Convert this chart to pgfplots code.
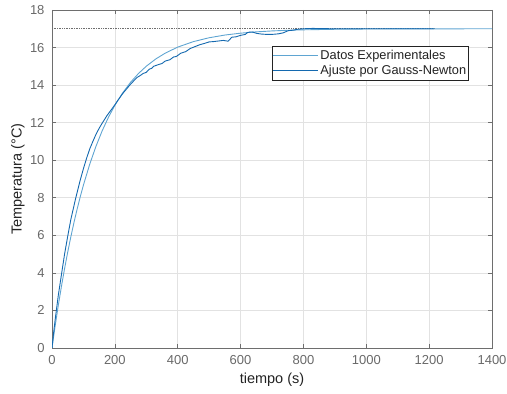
\documentclass[border=0pt]{standalone}
\usepackage{pgfplots}
\pgfplotsset{compat=1.18}
\usepackage{fontspec}
\setmainfont{Liberation Sans}
\definecolor{lightblue}{RGB}{95,165,210}
\definecolor{darkblue}{RGB}{20,105,175}
\definecolor{gridgray}{RGB}{226,226,226}
\definecolor{axisgray}{RGB}{110,110,110}
\definecolor{ticktext}{RGB}{105,105,105}
\definecolor{labeltext}{RGB}{35,35,35}
\begin{document}
\begin{tikzpicture}
\begin{axis}[
  at={(0,0)}, anchor=south west,
  scale only axis, width=440bp, height=338bp,
  xmin=0, xmax=1400, ymin=0, ymax=18,
  xtick={0,200,...,1400}, ytick={0,2,...,18},
  /pgf/number format/1000 sep={},
  /pgf/number format/assume math mode=true,
  grid=major, major grid style={draw=gridgray, line width=0.6bp},
  axis line style={draw=axisgray, line width=0.7bp},
  tick style={draw=axisgray, line width=0.6bp},
  tick align=inside, major tick length=4bp,
  ticklabel style={font=\fontsize{13bp}{15bp}\selectfont, text=ticktext},
  xticklabel style={yshift=-4bp},
  yticklabel style={xshift=-4bp},
  xlabel={tiempo (s)}, ylabel={Temperatura (°C)},
  label style={font=\fontsize{14.5bp}{17bp}\selectfont, text=labeltext},
  xlabel style={at={(axis description cs:0.5,-0.0947)}, anchor=center},
  ylabel style={at={(axis description cs:-0.0773,0.5)}, anchor=center},
  legend style={at={(0.5,0.8935)}, anchor=north west, draw=labeltext, line width=0.8bp,
    fill=white, font=\fontsize{12.8bp}{15bp}\selectfont, text=labeltext,
    inner xsep=0bp, inner ysep=2bp, row sep=0.3bp,
    nodes={inner xsep=2bp}},
  legend cell align=left,
  legend image code/.code={\draw[#1, line width=1bp] (-2bp,0bp) -- (43bp,0bp);},
]
\addplot[forget plot, densely dotted, color=axisgray, line width=0.7bp] coordinates {(0,17) (1215,17)};
\addplot[lightblue, line width=0.9bp] coordinates {
(0,0) (10,1.171) (20,2.263) (30,3.279) (40,4.225) (50,5.105) (60,5.926) (70,6.689)
(80,7.400) (90,8.061) (100,8.678) (120,9.785) (140,10.746) (160,11.579) (180,12.300)
(200,12.925) (225,13.59) (250,14.149) (275,14.615) (300,15.006) (330,15.39) (360,15.70)
(400,16.024) (450,16.317) (500,16.522) (550,16.666) (600,16.766) (650,16.836)
(700,16.885) (750,16.920) (800,16.944) (900,16.973) (1000,16.987) (1100,16.993)
(1200,16.997) (1400,17.0)};
\addlegendentry{Datos Experimentales}
\addplot[darkblue, line width=0.9bp] coordinates {
(0,0) (5,0.8) (10,1.5) (20,2.8) (30,3.9) (40,5.0) (50,5.95) (60,6.85) (75,7.95)
(90,8.95) (100,9.55) (110,10.1) (120,10.6) (130,11.0) (140,11.38) (150,11.7)
(160,11.98) (175,12.38) (190,12.72) (200,12.95) (210,13.2) (225,13.55)
(250,14.05) (270,14.4) (280,14.5) (290,14.62) (300,14.68) (310,14.85) (318,14.9)
(323,15.0) (340,15.1) (350,15.15) (360,15.28) (375,15.35) (387,15.5) (395,15.52)
(410,15.7) (425,15.78) (440,15.95) (455,16.05) (470,16.15) (485,16.22) (500,16.3)
(515,16.32) (530,16.35) (545,16.38) (560,16.34) (565,16.42) (572,16.55) (585,16.57)
(600,16.65) (615,16.7) (622,16.8) (631,16.83) (640,16.82) (650,16.76) (665,16.72)
(684,16.7) (700,16.7) (720,16.73) (735,16.78) (752,16.9) (765,16.92) (780,16.97)
(800,17.0) (830,17.02) (850,17.01) (900,17.0) (1000,17.0) (1100,17.0) (1215,17.0)};
\addlegendentry{Ajuste por Gauss-Newton}
\end{axis}
\pgfresetboundingbox
\path (-52bp,-46bp) rectangle (455bp,348bp);
\end{tikzpicture}
\end{document}
